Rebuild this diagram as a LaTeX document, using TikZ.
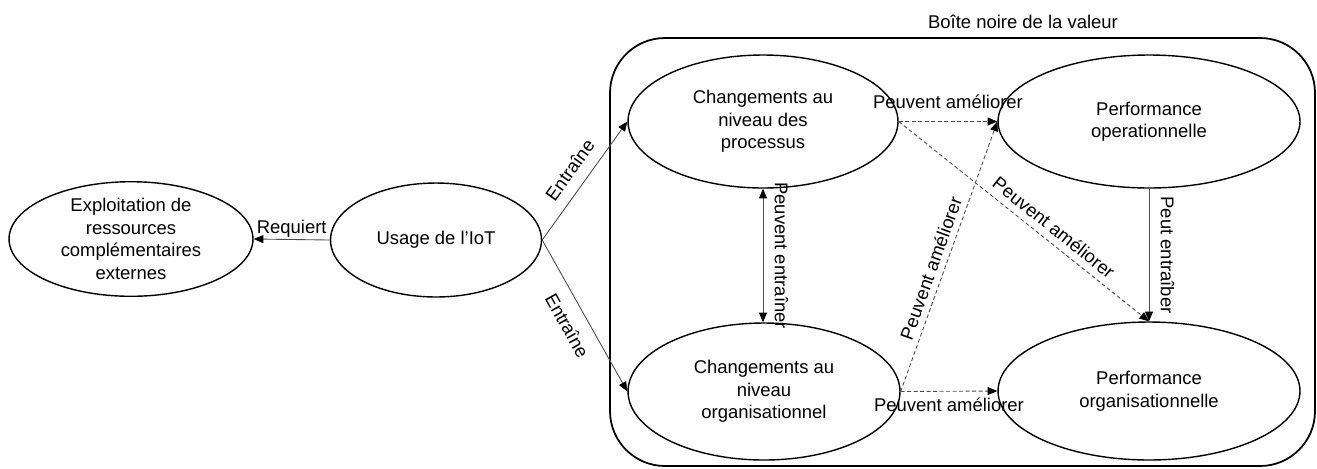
\documentclass[tikz,border=0pt]{standalone}
\usepackage{fontspec}
\setmainfont{Liberation Sans}
\usetikzlibrary{shapes.geometric,arrows.meta}

\begin{document}
\begin{tikzpicture}[x=0.02cm, y=-0.02cm,
  font=\fontsize{10.5}{12.8}\selectfont,
  >={Triangle[length=5.5pt,width=4.5pt,color=black]},
  etat/.style={ellipse, draw, line width=0.8pt, inner sep=0pt, align=center},
  fleche/.style={->, draw=black!70, line width=0.5pt},
  pointille/.style={fleche, dash pattern=on 2.2pt off 1.5pt}]
  \useasboundingbox (0,0) rectangle (1317,468);

  % Boite noire
  \draw[line width=1pt, rounded corners=1.1cm] (610,38) rectangle (1315,466);
  \node (titre) at (1023,22) {Boîte noire de la valeur};

  % Ellipses
  \node[etat, minimum width=4.88cm, minimum height=2.24cm] (expl) at (131,239)
    {Exploitation de\\ressources\\complémentaires\\externes};
  \node[etat, minimum width=4.22cm, minimum height=2.28cm] (usage) at (436,240)
    {Usage de l’IoT};
  \node[etat, minimum width=5.4cm, minimum height=2.66cm] (proc) at (763,121.5)
    {Changements au\\niveau des\\processus};
  \node[etat, minimum width=6.04cm, minimum height=2.66cm] (perfop) at (1149,121.5)
    {Performance\\operationnelle};
  \node[etat, minimum width=5.44cm, minimum height=2.74cm] (orga) at (764,391.5)
    {Changements au\\niveau\\organisationnel};
  \node[etat, minimum width=6.04cm, minimum height=2.76cm] (perforg) at (1149,391)
    {Performance\\organisationnelle};

  % Liens
  \draw[fleche] (usage.west) -- node[above, inner sep=1pt] {Requiert} (expl.east);
  \draw[fleche] (usage.east) -- node[sloped, above=3pt] {Entraîne} (proc.west);
  \draw[fleche] (usage.east) -- node[sloped, below=4pt] {Entraîne} (orga.west);
  \draw[fleche, <->] (proc.south) -- node[sloped, above=3pt] {Peuvent entraîner} (proc.south |- orga.north);
  \draw[fleche] (perfop.south) -- node[sloped, above=3pt] {Peut entraîber} (perforg.north);

  % Liens en pointille
  \draw[pointille] (proc.east) -- node[above=4pt] {Peuvent améliorer} (perfop.west);
  \draw[pointille] (proc.east) -- node[sloped, above=0.5pt, pos=0.585] {Peuvent améliorer} (perforg.north);
  \draw[pointille] (orga.east) -- node[sloped, above, pos=0.44] {Peuvent améliorer} (perfop.west);
  \draw[pointille] (orga.east) -- node[below] {Peuvent améliorer} (perforg.west);
\end{tikzpicture}
\end{document}
